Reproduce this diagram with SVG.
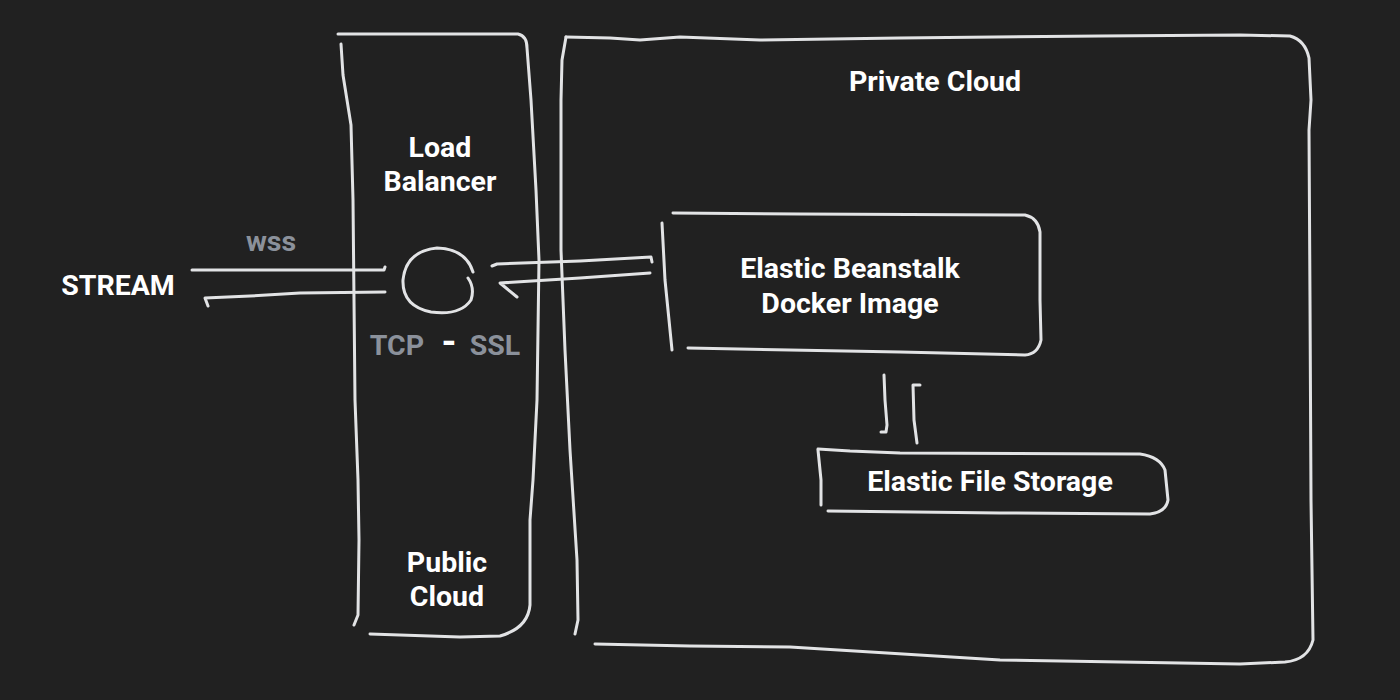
<svg xmlns="http://www.w3.org/2000/svg" width="1400" height="700" viewBox="0 0 1400 700">
<style>
.bg{fill:#212121}
.ln{fill:none;stroke:#e2e3e5;stroke-width:3;stroke-linecap:round;stroke-linejoin:round}
.t{font-family:Roboto,"Liberation Sans",sans-serif;font-weight:700;font-size:28.5px;fill:#ffffff;text-anchor:middle}
.g{fill:#8b919b}
</style>
<rect class="bg" x="0" y="0" width="1400" height="700"/>
<g id="public-cloud">
<path class="ln" d="M338,34 L518,34 Q527,36 527,48 L531,100 L536,190 L539,260 L537,400 L533,480 L530,520 L530,605 Q528,628 500,636 L460,637 L370,634"/>
<path class="ln" d="M341,44 L343,75 L351,125 L353,200 L355,400 L358,480 L359,540 L358,615 L354,625"/>
<text class="t" x="440" y="157">Load</text>
<text class="t" x="440" y="191">Balancer</text>
<text class="t" x="447" y="572">Public</text>
<text class="t" x="447" y="606">Cloud</text>
</g>
<g id="private-cloud">
<path class="ln" d="M566,37 L610,38 L640,40 L680,37 L760,40 L900,38 L1100,36 L1240,35 L1290,36 Q1305,40 1309,58 L1311,100 L1309,130 L1310,300 L1311,500 L1313,640 Q1308,660 1285,662 L1240,664 L1000,660 L790,647 L690,646 L595,644"/>
<path class="ln" d="M566,37 L562,60 L561,100 L561,250 L565,350 L570,450 L577,560 L578,620 L575,634"/>
<text class="t" x="935" y="91">Private Cloud</text>
</g>
<g id="load-balancer">
<path class="ln" d="M473,272 Q466,249 437,248 Q406,251 403,280 Q402,306 431,312 Q460,316 471,300 Q475,288 468,278"/>
<text class="t g" x="397" y="355">TCP</text>
<text class="t" x="449" y="355" style="font-size:38px">-</text>
<text class="t g" x="495" y="355">SSL</text>
</g>
<g id="stream">
<text class="t" x="118" y="295">STREAM</text>
</g>
<g id="beanstalk">
<path class="ln" d="M673,213 L800,214 L1025,215 Q1038,218 1040,232 L1040,300 L1041,340 Q1038,354 1025,355 L900,352 L688,348"/>
<path class="ln" d="M662,223 L665,280 L672,350"/>
<text class="t" x="850" y="278">Elastic Beanstalk</text>
<text class="t" x="850" y="313">Docker Image</text>
</g>
<g id="efs">
<path class="ln" d="M818,449 L850,451 L900,453 L1140,454 Q1160,457 1165,470 L1168,500 Q1166,512 1150,514 L1000,513 L828,511"/>
<path class="ln" d="M818,450 L821,480 L821,505"/>
<text class="t" x="990" y="491">Elastic File Storage</text>
</g>
<g id="connectors">
<path class="ln" d="M192,270 L384,270 L385,267"/>
<path class="ln" d="M385,292 L300,293 L250,296 L205,298 L208,306"/>
<text class="t g" x="271" y="251">wss</text>
<path class="ln" d="M492,266 L497,264 L580,261 L651,257 L652,262"/>
<path class="ln" d="M650,273 L580,278 L500,283 L517,297"/>
<path class="ln" d="M884,375 L885,400 L887,425 L886,432 L881,432"/>
<path class="ln" d="M920,385 L913,385 L914,420 L917,443"/>
</g>
</svg>
